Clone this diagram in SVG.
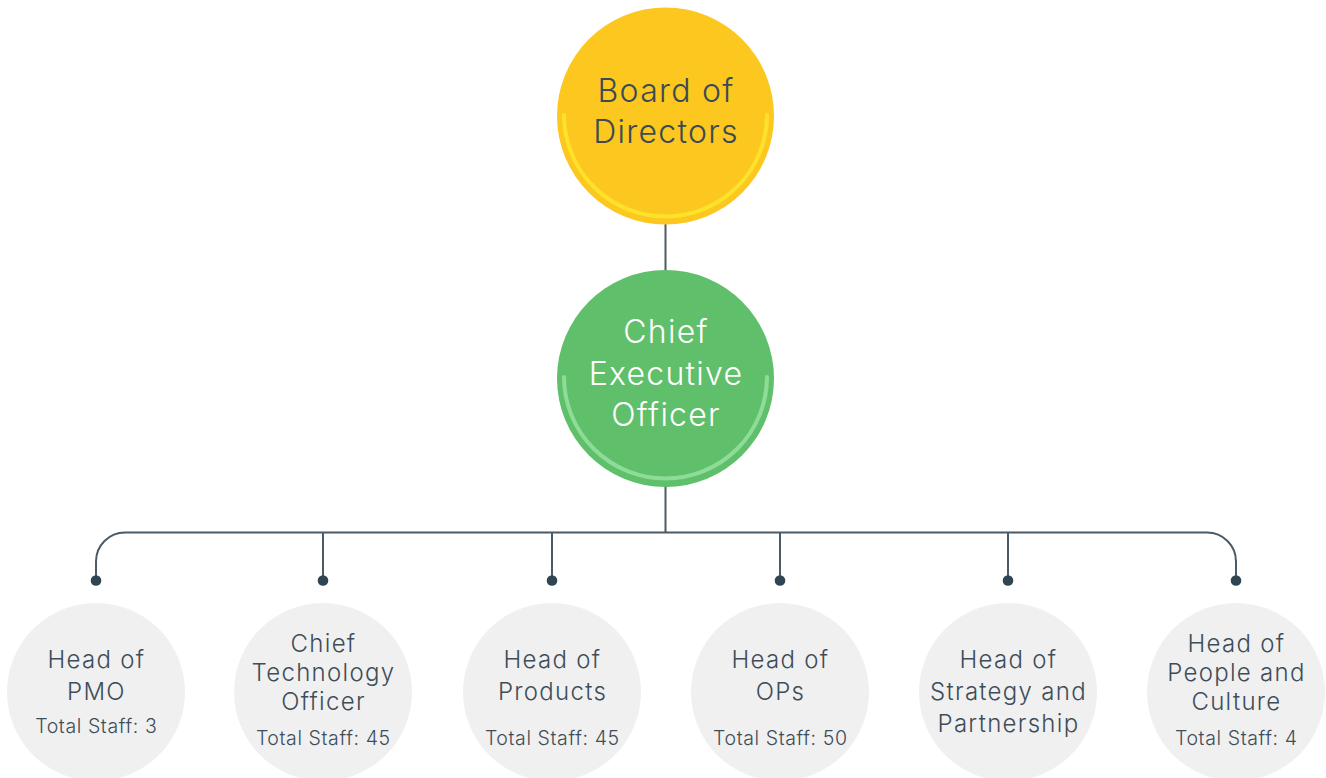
<svg xmlns="http://www.w3.org/2000/svg" width="1326" height="778" viewBox="0 0 1326 778">
  <style>
    .lbl { font-family: Inter, "Liberation Sans", sans-serif; text-anchor: middle; font-weight: 300; }
    .big { font-size: 32px; letter-spacing: 1.25px; }
    .head { font-size: 24px; fill: #3d4d59; letter-spacing: 1.3px; }
    .staff { font-size: 19.5px; fill: #3d4d59; letter-spacing: 0.6px; }
    .dark { fill: #3b4a55; }
    .white { fill: #ffffff; }
    .sub { fill: #f0f0f0; }
    .wire { fill: none; stroke: #4a5a66; stroke-width: 2; }
    .dot { fill: #2f4554; }
  </style>

  <!-- connectors -->
  <g id="connectors">
    <line class="wire" x1="665.5" y1="224" x2="665.5" y2="271"/>
    <line class="wire" x1="665.5" y1="486" x2="665.5" y2="532.5"/>
    <path class="wire" d="M96 580 V561.5 A29 29 0 0 1 125 532.5 H1207 A29 29 0 0 1 1236 561.5 V580"/>
    <line class="wire" x1="323" y1="532.5" x2="323" y2="580"/>
    <line class="wire" x1="552" y1="532.5" x2="552" y2="580"/>
    <line class="wire" x1="780" y1="532.5" x2="780" y2="580"/>
    <line class="wire" x1="1008" y1="532.5" x2="1008" y2="580"/>
    <circle class="dot" cx="96" cy="580.5" r="5.3"/>
    <circle class="dot" cx="323" cy="580.5" r="5.3"/>
    <circle class="dot" cx="552" cy="580.5" r="5.3"/>
    <circle class="dot" cx="780" cy="580.5" r="5.3"/>
    <circle class="dot" cx="1008" cy="580.5" r="5.3"/>
    <circle class="dot" cx="1236" cy="580.5" r="5.3"/>
  </g>

  <!-- top level -->
  <g id="board">
    <circle cx="665.5" cy="116" r="108.5" fill="#fcc71e"/>
    <path d="M564 115 A101.5 101.5 0 0 0 767 115" fill="none" stroke="#fde22c" stroke-width="4" stroke-linecap="round"/>
    <text class="lbl big dark" x="666" y="102">Board of</text>
    <text class="lbl big dark" x="666" y="143">Directors</text>
  </g>

  <g id="ceo">
    <circle cx="665.5" cy="378.5" r="108.5" fill="#5fbf6a"/>
    <path d="M564 377 A101.5 101.5 0 0 0 767 377" fill="none" stroke="#8fdc99" stroke-width="4" stroke-linecap="round"/>
    <text class="lbl big white" x="666" y="343">Chief</text>
    <text class="lbl big white" x="666" y="385">Executive</text>
    <text class="lbl big white" x="666" y="426">Officer</text>
  </g>

  <!-- department heads -->
  <g id="pmo">
    <circle class="sub" cx="96" cy="692" r="89"/>
    <text class="lbl head" x="96.5" y="668">Head of</text>
    <text class="lbl head" x="96.5" y="700">PMO</text>
    <text class="lbl staff" x="96.3" y="733">Total Staff: 3</text>
  </g>

  <g id="cto">
    <circle class="sub" cx="323" cy="692" r="89"/>
    <text class="lbl head" x="323.5" y="652">Chief</text>
    <text class="lbl head" x="323.5" y="681">Technology</text>
    <text class="lbl head" x="323.5" y="710">Officer</text>
    <text class="lbl staff" x="323.3" y="745">Total Staff: 45</text>
  </g>

  <g id="products">
    <circle class="sub" cx="552" cy="692" r="89"/>
    <text class="lbl head" x="552.5" y="668">Head of</text>
    <text class="lbl head" x="552.5" y="700">Products</text>
    <text class="lbl staff" x="552.3" y="745">Total Staff: 45</text>
  </g>

  <g id="ops">
    <circle class="sub" cx="780" cy="692" r="89"/>
    <text class="lbl head" x="780.5" y="668">Head of</text>
    <text class="lbl head" x="780.5" y="700">OPs</text>
    <text class="lbl staff" x="780.3" y="745">Total Staff: 50</text>
  </g>

  <g id="strategy">
    <circle class="sub" cx="1008" cy="692" r="89"/>
    <text class="lbl head" x="1008.5" y="668">Head of</text>
    <text class="lbl head" x="1008.5" y="700">Strategy and</text>
    <text class="lbl head" x="1008.5" y="732">Partnership</text>
  </g>

  <g id="people">
    <circle class="sub" cx="1236" cy="692" r="89"/>
    <text class="lbl head" x="1236.5" y="652">Head of</text>
    <text class="lbl head" x="1236.5" y="681">People and</text>
    <text class="lbl head" x="1236.5" y="710">Culture</text>
    <text class="lbl staff" x="1236.3" y="745">Total Staff: 4</text>
  </g>
</svg>
